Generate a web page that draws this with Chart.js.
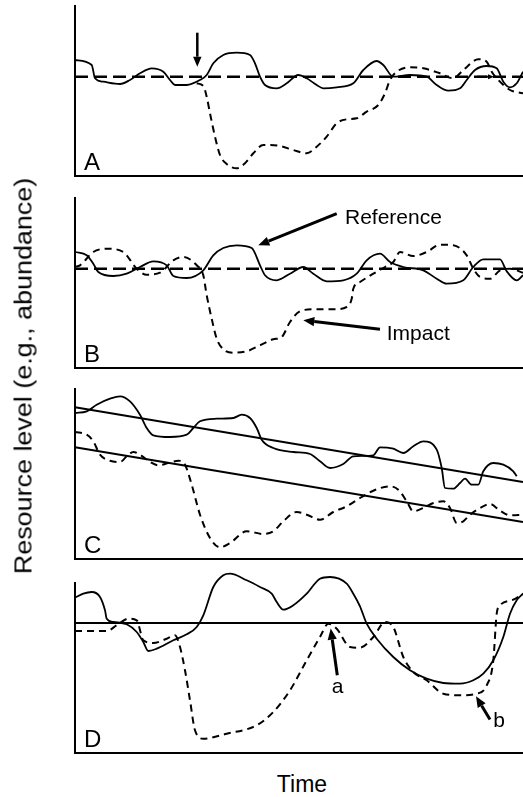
<!DOCTYPE html>
<html>
<head>
<meta charset="utf-8">
<script src="https://cdn.jsdelivr.net/npm/chart.js@4"></script>
<style>
  body { margin: 0; background: #fff; width: 523px; height: 797px; position: relative; overflow: hidden; font-family: "Liberation Sans", Arial, Helvetica, sans-serif; }
  canvas { position: absolute; left: 0; }
  #ylabel {
    position: absolute; left: 24px; top: 376px; font-size: 23px; line-height: 23px; white-space: nowrap; color: #000;
    transform: translate(-50%, -50%) rotate(-90deg) scaleX(1.17);
  }
  #xlabel { position: absolute; left: 302px; top: 773px; font-size: 23px; line-height: 23px; color: #000; transform: translateX(-50%); }
</style>
</head>
<body>
<canvas id="panelA"></canvas>
<canvas id="panelB"></canvas>
<canvas id="panelC"></canvas>
<canvas id="panelD"></canvas>
<div id="ylabel">Resource level (e.g., abundance)</div>
<div id="xlabel">Time</div>
<script>
// time runs 0..448, resource level 0..170 in every panel

// A: reference site and impact site, flat mean level
const refAT = [0,16.7,20,28.3,45,55,65,76.7,88.3,95,100,111.7,125,131.7,138.3,148.3,161.7,175,180,185,190,201.7,211.7,223.3,231.7,241.7,248.3,261.7,278.3,288.3,301.7,308.3,318.3,335,351.7,361.7,373.3,385,391.7,400,411.7,421.7,428.3,435,441.7,448];
const refAY = [116,111,97.7,94.3,92,96,102.7,107.7,104.3,96,91,91,96,101,112.7,121,123.3,121,112.7,99.3,91,87.7,92.7,101,97.7,91,87.7,88.7,92.7,106,115,111,99.3,101,99.3,91,85.3,87.7,96,106,110,107.7,94.3,88.7,92.7,104.3];
const impAT = [121.7,128.3,131.7,135,140,145,151.7,161.7,170,178.3,188.3,205,218.3,231.7,241.7,251.7,261.7,271.7,281.7,291.7,303.3,310,315,321.7,335,348.3,365,378.3,388.3,403.3,411.7,416.7,423.3,435,448];
const impAY = [92.7,90,79.3,62.7,39.3,21,12,7.7,12.7,22.7,31,30,26,22.7,29.3,39.3,52.7,56.7,57.7,64.3,71,82.7,96,104.3,108.7,107.7,102.7,97.7,106,116.7,114.3,104.3,96,86,82.7];

// B
const refBT = [0,11.7,18.3,23.3,38.3,51.7,65,78.3,91.7,98.3,111.7,128.3,138.3,148.3,161.7,176.7,185,190,201.7,215,228.3,238.3,251.7,268.3,281.7,291.7,305,315,328.3,348.3,361.7,371.7,388.3,398.3,408.3,425,431.7,441.7,448];
const refBY = [116,112.7,104.3,96,92,94.3,101,106.7,102.7,92,90,97.7,112.7,120,122.7,120,102.7,92.7,87.7,94.3,101,94.3,86.7,87.7,94.3,107.7,114.3,106,101,97.7,89.3,84.3,87.7,101,108.7,108.7,96.7,87.7,92.7];
const impBT = [0,5,18.3,31.7,48.3,61.7,71.7,85,98.3,108.3,121.7,128.3,131.7,136.7,141.7,148.3,158.3,171.7,185,198.3,206.7,215,225,238.3,258.3,271.7,276.7,278.3,285,298.3,310,318.3,325,338.3,351.7,365,378.3,391.7,398.3,405,415,425,435,448];
const impBY = [101,102.7,116,119.3,116,99.3,93.3,95.3,107.7,111,102.7,92.7,72.7,49.3,29.3,18.7,15.3,16.7,22.7,28.7,31,46,56.7,58.7,58.7,61,69.3,79.3,86,94.3,101,106,116,112,116,123.3,122.7,112.7,99.3,91,89.3,97.7,99.3,95.3];

const meanT = [0, 448];
const meanLevel = [99.3, 99.3];

// C: declining trend
const refCT = [0,11.7,21.7,35,45,55,65,71.7,78.3,95,111.7,118.3,125,141.7,158.3,166.7,175,181.7,186.7,198.3,218.3,235,245,255,268.3,278.3,298.3,305,318.3,328.3,338.3,348.3,361.7,366.7,370,378.3,385,390,396.7,403.3,408.3,418.3,428.3,438.3,441.7];
const refCY = [146,147.7,154.3,160.3,162.7,157.7,144.3,131,123.7,122,124.3,131,137.7,140.3,141,144.3,141,131,119.3,111,107,105,97.7,91,95,102.7,103.7,111.7,110.3,106,112.7,117.7,109.3,91,71,70.3,76,80.3,74.3,74.3,87.7,96,94.3,87.7,82.7];
const impCT = [0,11.7,18.3,25,35,45,51.7,58.3,65,75,83.3,93.3,103.3,110,116.7,125,135,145,155,171.7,188.3,198.3,208.3,221.7,231.7,245,258.3,271.7,285,298.3,315,323.3,331.7,338.3,348.3,358.3,368.3,375,381.7,388.3,395,405,415,425,435,448];
const impCY = [127,124.3,117.7,104.3,98.3,97,102.7,107,104.3,97,93.7,96,98.3,94.3,74.3,44.3,21,11.7,16,27.7,25,27.7,37.7,47,44.3,39.3,47,52.7,61,68.3,72.7,69.3,57.7,47.7,51,56,57.7,51,36,37.7,44.3,51,55,48.3,43.7,44.3];
const trendT = [0, 448];
const trendRef = [151.7, 77];
const trendImp = [111.7, 37];

// D
const refDT = [0,8.3,16.7,25,30,31.7,38.3,51.7,61.7,68.3,73.3,81.7,98.3,111.7,121.7,128.3,138.3,148.3,155,171.7,185,196.7,201.7,208.3,218.3,231.7,245,255,271.7,278.3,285,291.7,301.7,318.3,335,351.7,368.3,385,398.3,408.3,418.3,428.3,435,441.7,448];
const refDY = [155.3,159.3,161,156,142.7,134.3,131,128.7,121,111,102,104.3,112.7,118.7,126,137.7,166,177.7,179.3,172.7,166,159.3,151,143.3,147.7,159.3,174.3,176,169.3,159.3,146.7,129.3,114.3,96,82.7,74.3,70,69.3,72.7,79.3,92.7,116,139.3,152.7,159.3];
const impDT = [0,18.3,31.7,41.7,53.3,61.7,68.3,78.3,91.7,100,105,110,115,120,128.3,151.7,181.7,198.3,215,231.7,245,253.3,261.7,275,285,298.3,310,318.3,328.3,338.3,351.7,368.3,385,401.7,411.7,418.3,421.7,425,438.3,448];
const impDY = [122,122,122,127.7,134.3,132.7,112.7,110,114.3,117.7,106,82.7,52.7,22.7,14.3,19.3,27.7,41,62.7,92.7,116,129.3,124.3,106,105.3,116,131,126,96,81,72.7,59.3,57.7,59.3,67.7,92.7,139.3,147.7,153.3,159.3];
const levelDT = [0, 448];
const levelD = [130, 130];

const pts = (t, v) => t.map((x, i) => ({ x: x, y: v[i] }));

const solid = (t, v, w) => ({ data: pts(t, v), borderColor: '#000', borderWidth: w || 1.8, pointRadius: 0, cubicInterpolationMode: 'monotone', clip: false });
const dashed = (t, v) => ({ data: pts(t, v), borderColor: '#000', borderWidth: 2, borderDash: [7, 5], pointRadius: 0, cubicInterpolationMode: 'monotone', clip: false });
const longDash = (t, v) => ({ data: pts(t, v), borderColor: '#000', borderWidth: 2.6, borderDash: [13, 6], pointRadius: 0, clip: false });

// arrows and labels, drawn through the chart scales
const annotate = {
    id: 'annotate',
    afterDatasetsDraw(chart, args, opts) {
        const { ctx, scales: { x, y } } = chart;
        ctx.save();
        ctx.fillStyle = '#000';
        ctx.strokeStyle = '#000';
        ctx.setLineDash([]);
        (opts.arrows || []).forEach(a => {
            const x1 = x.getPixelForValue(a.from[0]), y1 = y.getPixelForValue(a.from[1]);
            const x2 = x.getPixelForValue(a.to[0]), y2 = y.getPixelForValue(a.to[1]);
            const ang = Math.atan2(y2 - y1, x2 - x1);
            const hl = a.head || 11, hw = hl * 0.42;
            const bx = x2 - hl * Math.cos(ang), by = y2 - hl * Math.sin(ang);
            ctx.lineWidth = a.width || 3;
            ctx.beginPath();
            ctx.moveTo(x1, y1);
            ctx.lineTo(bx, by);
            ctx.stroke();
            ctx.beginPath();
            ctx.moveTo(x2, y2);
            ctx.lineTo(bx - hw * Math.sin(ang), by + hw * Math.cos(ang));
            ctx.lineTo(bx + hw * Math.sin(ang), by - hw * Math.cos(ang));
            ctx.closePath();
            ctx.fill();
        });
        ctx.font = '21px "Liberation Sans", Arial, sans-serif';
        ctx.textBaseline = 'alphabetic';
        (opts.texts || []).forEach(t => {
            ctx.textAlign = t.align || 'left';
            ctx.fillText(t.text, x.getPixelForValue(t.x), y.getPixelForValue(t.y));
        });
        ctx.font = '24px "Liberation Sans", Arial, sans-serif';
        ctx.textAlign = 'left';
        ctx.fillText(opts.letter, chart.chartArea.left + 9, chart.chartArea.bottom - 6);
        ctx.restore();
    }
};

// page placement of each panel's axes
const layout = {
    A: { top: 6, bottom: 176 },
    B: { top: 198, bottom: 368 },
    C: { top: 389, bottom: 559 },
    D: { top: 583, bottom: 753 }
};

function makePanel(letter, datasets, notes) {
    const canvas = document.getElementById('panel' + letter);
    const box = layout[letter];
    const padTop = 16, padBottom = 8;
    canvas.width = 523;
    canvas.height = box.bottom - box.top + padTop + padBottom;
    canvas.style.top = (box.top - padTop) + 'px';
    notes.letter = letter;
    return new Chart(canvas.getContext('2d'), {
        type: 'line',
        data: { datasets: datasets },
        options: {
            responsive: false,
            animation: false,
            devicePixelRatio: 1,
            events: [],
            layout: { padding: { left: 75, right: 0, top: padTop, bottom: padBottom } },
            scales: {
                x: {
                    type: 'linear', min: 0, max: 448,
                    ticks: { display: false },
                    grid: { display: false, drawTicks: false },
                    border: { display: true, color: '#000', width: 2 }
                },
                y: {
                    min: 0, max: 170,
                    ticks: { display: false },
                    grid: { display: false, drawTicks: false },
                    border: { display: true, color: '#000', width: 2 }
                }
            },
            plugins: {
                legend: { display: false },
                tooltip: { enabled: false },
                annotate: notes
            }
        },
        plugins: [annotate]
    });
}

makePanel('A', [
    longDash(meanT, meanLevel),
    solid(refAT, refAY),
    dashed(impAT, impAY)
], {
    arrows: [
        { from: [122.3, 143.3], to: [122.3, 109.3], head: 10, width: 2.5 },
        { from: [402, 99.3], to: [419, 99.3], head: 6, width: 2 }
    ]
});

makePanel('B', [
    longDash(meanT, meanLevel),
    solid(refBT, refBY),
    dashed(impBT, impBY)
], {
    arrows: [
        { from: [261.7, 154.4], to: [183.3, 122.7] },
        { from: [305, 38.7], to: [228.3, 47.7] }
    ],
    texts: [
        { text: 'Reference', x: 270, y: 144.4 },
        { text: 'Impact', x: 311.7, y: 27.7 }
    ]
});

makePanel('C', [
    solid(trendT, trendRef, 2),
    solid(trendT, trendImp, 2),
    solid(refCT, refCY),
    dashed(impCT, impCY)
], {});

makePanel('D', [
    solid(levelDT, levelD, 2),
    solid(refDT, refDY),
    dashed(impDT, impDY)
], {
    arrows: [
        { from: [262.3, 77.7], to: [255.7, 124.4] },
        { from: [415, 33.4], to: [401, 56.7] }
    ],
    texts: [
        { text: 'a', x: 262.5, y: 59.7, align: 'center' },
        { text: 'b', x: 424, y: 25.7, align: 'center' }
    ]
});
</script>
</body>
</html>
